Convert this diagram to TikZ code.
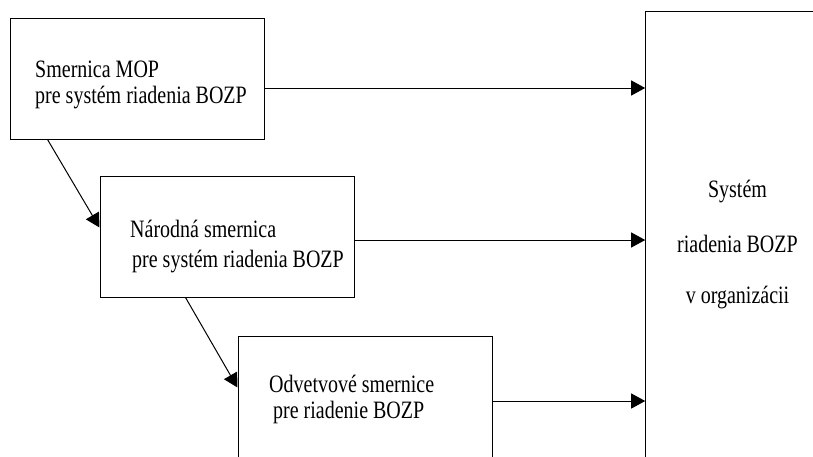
\documentclass[tikz,border=0pt]{standalone}
\usepackage{fontspec}
\newfontfamily\tnr{Liberation Serif}[FakeStretch=0.8]
\usetikzlibrary{arrows.meta}
\tikzset{
  box/.style={draw, line width=1pt, rectangle, inner sep=0pt, minimum width=254pt, minimum height=121pt},
  bigbox/.style={draw, line width=1pt, rectangle, inner sep=0pt, minimum width=184pt, minimum height=470pt},
  txt/.style={inner sep=0pt, font=\tnr\fontsize{25}{26}\selectfont},
  arr/.style={line width=1pt, -{Triangle[length=14pt,width=15pt]}},
}
\begin{document}
\begin{tikzpicture}[x=1pt,y=-1pt]
\useasboundingbox (0,0) rectangle (813,456);
\node[box] (b1) at (137,78.5) {};
\node[box] (b2) at (227,236.5) {};
\node[box, minimum height=130pt] (b3) at (365,401) {};
\node[bigbox] (big) at (737.7,246) {};
% texts
\node[txt, anchor=base west] (t1a) at (35,77) {Smernica MOP};
\node[txt, anchor=base west] (t1b) at (35,103) {pre systém riadenia BOZP};
\node[txt, anchor=base west] (t2a) at (130,237) {Národná smernica};
\node[txt, anchor=base west] (t2b) at (132,267) {pre systém riadenia BOZP};
\node[txt, anchor=base west] (t3a) at (269,392) {Odvetvové smernice};
\node[txt, anchor=base west] (t3b) at (273,418) {pre riadenie BOZP};
\node[txt, anchor=base] (tba) at (737.5,197) {Systém};
\node[txt, anchor=base] (tbb) at (737.5,252) {riadenia BOZP};
\node[txt, anchor=base] (tbc) at (737.5,303) {v organizácii};
% horizontal arrows
\draw[arr] ([yshift=-9.5pt]b1.east) -- ([yshift=-9.5pt]b1.east -| big.west);
\draw[arr] ([yshift=-3.5pt]b2.east) -- ([yshift=-3.5pt]b2.east -| big.west);
\draw[arr] (b3.east) -- (b3.east -| big.west);
% diagonal arrows
\draw[arr] ([xshift=38pt]b1.south west) -- ([yshift=-52pt]b2.north west);
\draw[arr] ([xshift=86pt]b2.south west) -- ([yshift=-52pt]b3.north west);
\end{tikzpicture}
\end{document}
